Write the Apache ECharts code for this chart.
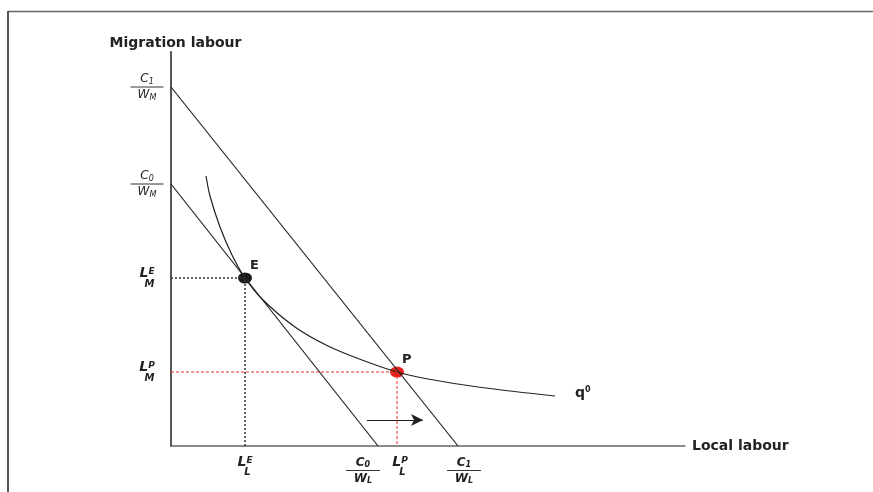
<!DOCTYPE html>
<html><head><meta charset="utf-8">
<script src="https://cdn.jsdelivr.net/npm/echarts@6/dist/echarts.min.js"></script>
<style>html,body{margin:0;padding:0;background:#fff}#c{width:873px;height:492px}</style>
</head><body><div id="c"></div>
<script>
// ---- data (abstract units) ----
const budgetC1 = [[0, 359], [287, 0]];
const budgetC0 = [[0, 262], [207, 0]];
const isoquantQ0 = [[35, 270], [39, 250], [49, 219], [61, 191], [74, 168], [91, 147], [124, 119],
  [157, 100], [191, 86], [226, 74], [257, 67], [307, 59], [384, 50]];
const pointE = [74, 168];
const pointP = [226, 74];
const shiftArrow = [[196, 26], [252, 26]];
const yTickValues = [359, 262, 168, 74];
const yTickLabels = ['C_1/W_M', 'C_0/W_M', 'L^E_M', 'L^P_M'];
const xTickValues = [74, 207, 226, 287];
const xTickLabels = ['L^E_L', 'C_0/W_L', 'L^P_L', 'C_1/W_L'];
const xAxisName = 'Local labour';
const yAxisName = 'Migration labour';
const pointNames = ['E', 'P'];
const curveName = 'q^0';

// ---- styling ----
const FONT = '"DejaVu Sans", "Liberation Sans", Arial, sans-serif';
const INK = '#222';
const xLabelShift = { 207: -15, 226: 3, 287: 6 };

function part(s, cls) {
  const [b, sub] = s.split('_');
  return `{${cls}|${b}}` + (sub ? `{${cls}S|${sub}}` : '');
}
function fmt(s, p, shift) {
  let lines;
  if (s.includes('/')) {
    const [n, d] = s.split('/');
    lines = [part(n, p + 'F'), `{${p}Bar| }`, part(d, p + 'F')];
  } else {
    const m = s.match(/^(.)\^(.)_(.)$/);
    lines = [`{${p}L|${m[1]}}{${p}Sup|${m[2]}}`, `{${p}Sub|${m[3]}}`];
  }
  if (shift) {
    const key = 'sp' + Math.abs(shift * 2);
    lines = lines.map(l => shift < 0 ? l + `{${key}|\u00a0}` : `{${key}|\u00a0}` + l);
  }
  return lines.join('\n');
}
function spacer(w) { return { width: w, fontSize: 1, lineHeight: 1 }; }

function richFor(p, bold, fSize, barW) {
  const fw = bold ? 'bold' : 'normal';
  const r = {};
  r[p + 'F'] = { fontFamily: FONT, fontStyle: 'italic', fontWeight: fw, fontSize: fSize, lineHeight: 13, color: INK };
  r[p + 'FS'] = { fontFamily: FONT, fontStyle: 'italic', fontWeight: fw, fontSize: 8, lineHeight: 8, verticalAlign: 'bottom', color: INK };
  r[p + 'Bar'] = { width: barW, height: 1, lineHeight: 3, fontSize: 1, backgroundColor: '#333' };
  r[p + 'L'] = { fontFamily: FONT, fontStyle: 'italic', fontWeight: 'bold', fontSize: 14, lineHeight: 12, color: INK };
  r[p + 'Sup'] = { fontFamily: FONT, fontStyle: 'italic', fontWeight: 'bold', fontSize: 9, lineHeight: 9, verticalAlign: 'top', color: INK };
  r[p + 'Sub'] = { fontFamily: FONT, fontStyle: 'italic', fontWeight: 'bold', fontSize: 10, lineHeight: 9, padding: [0, 0, 0, 5], color: INK };
  return r;
}
const xRich = Object.assign(richFor('x', true, 12, 34), { sp30: spacer(30), sp6: spacer(6), sp12: spacer(12) });
const yRich = richFor('y', false, 12, 33);

const chart = echarts.init(document.getElementById('c'), null, { renderer: 'canvas' });
const lineBase = { type: 'line', symbol: 'none', silent: true, animation: false };

chart.setOption({
  animation: false,
  backgroundColor: '#fff',
  grid: { left: 171, top: 52, width: 514, height: 394 },
  xAxis: {
    type: 'value', min: 0, max: 514,
    name: xAxisName, nameLocation: 'end', nameGap: 7,
    nameTextStyle: { fontFamily: FONT, fontWeight: 'bold', fontSize: 14, color: INK },
    axisLine: { show: true, lineStyle: { color: '#666', width: 1.5 } },
    axisTick: { show: false }, splitLine: { show: false },
    axisLabel: {
      customValues: xTickValues, margin: 10, rich: xRich,
      formatter: v => fmt(xTickLabels[xTickValues.indexOf(v)], 'x', xLabelShift[v] || 0)
    }
  },
  yAxis: {
    type: 'value', min: 0, max: 394,
    name: yAxisName, nameLocation: 'end', nameGap: 2,
    nameTextStyle: { fontFamily: FONT, fontWeight: 'bold', fontSize: 14, color: INK, padding: [0, 0, 0, 9] },
    axisLine: { show: true, lineStyle: { color: '#444', width: 1.8 } },
    axisTick: { show: false }, splitLine: { show: false },
    axisLabel: {
      customValues: yTickValues, margin: 24, align: 'center', rich: yRich,
      formatter: v => fmt(yTickLabels[yTickValues.indexOf(v)], 'y', 0)
    }
  },
  graphic: [
    { type: 'line', shape: { x1: 8, y1: 11.5, x2: 873, y2: 11.5 }, style: { stroke: '#666', lineWidth: 1.5 }, silent: true },
    { type: 'line', shape: { x1: 8, y1: 11, x2: 8, y2: 492 }, style: { stroke: '#555', lineWidth: 2 }, silent: true }
  ],
  series: [
    Object.assign({}, lineBase, {
      name: 'C1', data: budgetC1, lineStyle: { color: INK, width: 1.2 },
      markLine: {
        silent: true, symbol: ['none', 'arrow'], symbolSize: [9, 12],
        label: { show: false }, lineStyle: { color: INK, width: 1.2, type: 'solid' },
        data: [[{ coord: shiftArrow[0] }, { coord: shiftArrow[1] }]]
      }
    }),
    Object.assign({}, lineBase, { name: 'C0', data: budgetC0, lineStyle: { color: INK, width: 1.2 } }),
    Object.assign({}, lineBase, {
      name: 'q0', data: isoquantQ0, smooth: 0.3, lineStyle: { color: INK, width: 1.2 },
      endLabel: {
        show: true, distance: 20, offset: [0, -3],
        formatter: () => { const [b, s] = curveName.split('^'); return `{q|${b}}{s|${s}}`; },
        rich: {
          q: { fontFamily: FONT, fontWeight: 'bold', fontSize: 14, lineHeight: 14, color: INK },
          s: { fontFamily: FONT, fontWeight: 'bold', fontSize: 8, lineHeight: 8, verticalAlign: 'top', color: INK }
        }
      }
    }),
    Object.assign({}, lineBase, {
      name: 'E guides', data: [[0, pointE[1]], pointE, [pointE[0], 0]],
      lineStyle: { color: '#333', width: 1.5, type: [2, 2] }
    }),
    Object.assign({}, lineBase, {
      name: 'P guides', data: [[0, pointP[1]], pointP, [pointP[0], 0]],
      lineStyle: { color: '#e8322e', width: 1, type: [3, 2] }
    }),
    {
      type: 'scatter', silent: true, animation: false, symbol: 'circle', symbolSize: [14, 11],
      itemStyle: { opacity: 1 },
      data: [
        { value: pointE, name: pointNames[0], itemStyle: { color: '#1a1a1a', opacity: 1 } },
        { value: pointP, name: pointNames[1], itemStyle: { color: '#e8211d', opacity: 1 } }
      ],
      label: {
        show: true, position: [12, -13], formatter: p => p.name,
        fontFamily: FONT, fontWeight: 'bold', fontSize: 13, color: INK
      }
    }
  ]
});
</script></body></html>
